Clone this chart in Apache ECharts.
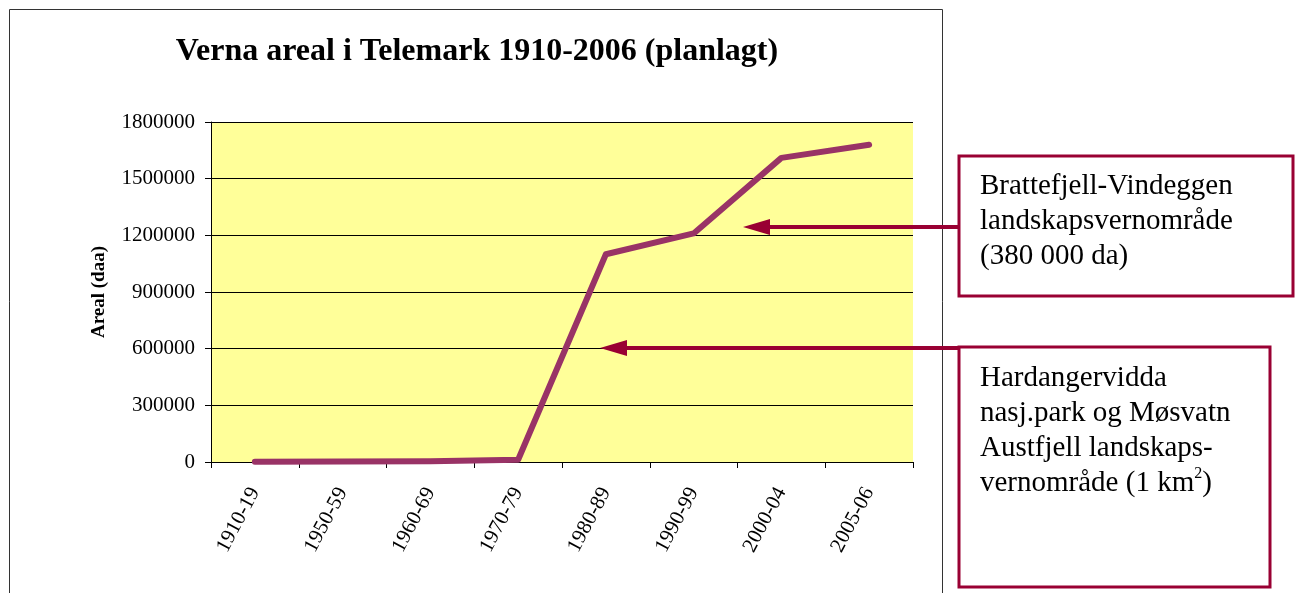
<!DOCTYPE html>
<html>
<head>
<meta charset="utf-8">
<script src="https://cdn.jsdelivr.net/npm/echarts@6/dist/echarts.min.js"></script>
<style>
html,body{margin:0;padding:0;background:#fff;}
#main{width:1299px;height:593px;}
</style>
</head>
<body>
<div id="main"></div>
<script>
const categories = ['1910-19','1950-59','1960-69','1970-79','1980-89','1990-99','2000-04','2005-06'];
const arealValues = [1000, 2000, 4000, 12000, 1100000, 1210000, 1610000, 1680000];
const yTicks = [0, 300000, 600000, 900000, 1200000, 1500000, 1800000];
const titleText = 'Verna areal i Telemark 1910-2006 (planlagt)';
const yAxisName = 'Areal (daa)';
const note1 = ['Brattefjell-Vindeggen', 'landskapsvernområde', '(380 000 da)'];
const note2 = ['Hardangervidda', 'nasj.park og Møsvatn', 'Austfjell landskaps-', 'vernområde (1 km{sup|2})'];

const serif = '"Liberation Serif", "Times New Roman", serif';
const red = '#990033';
const chart = echarts.init(document.getElementById('main'), null, {renderer: 'canvas'});

function arrow(x1, x2, y) {
  return [
    {type: 'line', shape: {x1: x1, y1: y, x2: x2 + 20, y2: y}, style: {stroke: red, lineWidth: 4}, z: 100},
    {type: 'polygon', shape: {points: [[x2, y], [x2 + 27, y - 8], [x2 + 27, y + 8]]}, style: {fill: red}, z: 100}
  ];
}

chart.setOption({
  animation: false,
  title: {
    text: titleText,
    left: 472, top: 31, textAlign: 'center',
    textStyle: {fontFamily: serif, fontWeight: 'bold', fontSize: 32, color: '#000'}
  },
  grid: {
    left: 211, right: 386, top: 122, bottom: 131,
    show: true, backgroundColor: '#FFFF99', borderWidth: 0
  },
  xAxis: {
    type: 'category',
    data: categories,
    boundaryGap: true,
    axisLine: {lineStyle: {color: '#000', width: 1}},
    axisTick: {show: true, length: 6, inside: false, lineStyle: {color: '#000'}},
    axisLabel: {rotate: 62, margin: 27, fontFamily: serif, fontSize: 21, color: '#000', interval: 0}
  },
  yAxis: {
    type: 'value',
    min: yTicks[0], max: yTicks[yTicks.length - 1], interval: 300000,
    name: yAxisName,
    nameLocation: 'middle',
    nameGap: 102,
    nameRotate: 90,
    nameTextStyle: {fontFamily: serif, fontWeight: 'bold', fontSize: 19, color: '#000'},
    axisLine: {show: true, lineStyle: {color: '#000', width: 1}},
    axisTick: {show: true, length: 6, lineStyle: {color: '#000'}},
    axisLabel: {margin: 16, fontFamily: serif, fontSize: 21, color: '#000', formatter: function (v) { return String(v); }},
    splitLine: {show: true, lineStyle: {color: '#000', width: 1}}
  },
  series: [{
    type: 'line',
    data: arealValues,
    symbol: 'none',
    lineStyle: {color: '#993366', width: 6, cap: 'round', join: 'round'},
    z: 5
  }],
  graphic: [
    {type: 'rect', shape: {x: 9.5, y: 9.5, width: 933, height: 620}, style: {fill: null, stroke: '#333', lineWidth: 1}, z: -10, silent: true},
    {type: 'rect', shape: {x: 959, y: 156, width: 334, height: 140}, style: {fill: '#fff', stroke: red, lineWidth: 3}, z: 90},
    {type: 'text', x: 980, y: 169, style: {text: note1.join('\n'), font: '29px ' + serif, fill: '#000', lineHeight: 35}, z: 110},
    {type: 'rect', shape: {x: 959, y: 347, width: 311, height: 240}, style: {fill: '#fff', stroke: red, lineWidth: 3}, z: 90},
    {type: 'text', x: 980, y: 361, style: {
      text: note2.join('\n'), font: '29px ' + serif, fill: '#000', lineHeight: 35,
      rich: {sup: {fontSize: 16, verticalAlign: 'top', padding: [0, 0, 14, 0], fontFamily: serif, lineHeight: 35}}
    }, z: 110},
    ...arrow(959, 743, 227),
    ...arrow(959, 600, 348)
  ]
});
</script>
</body>
</html>
